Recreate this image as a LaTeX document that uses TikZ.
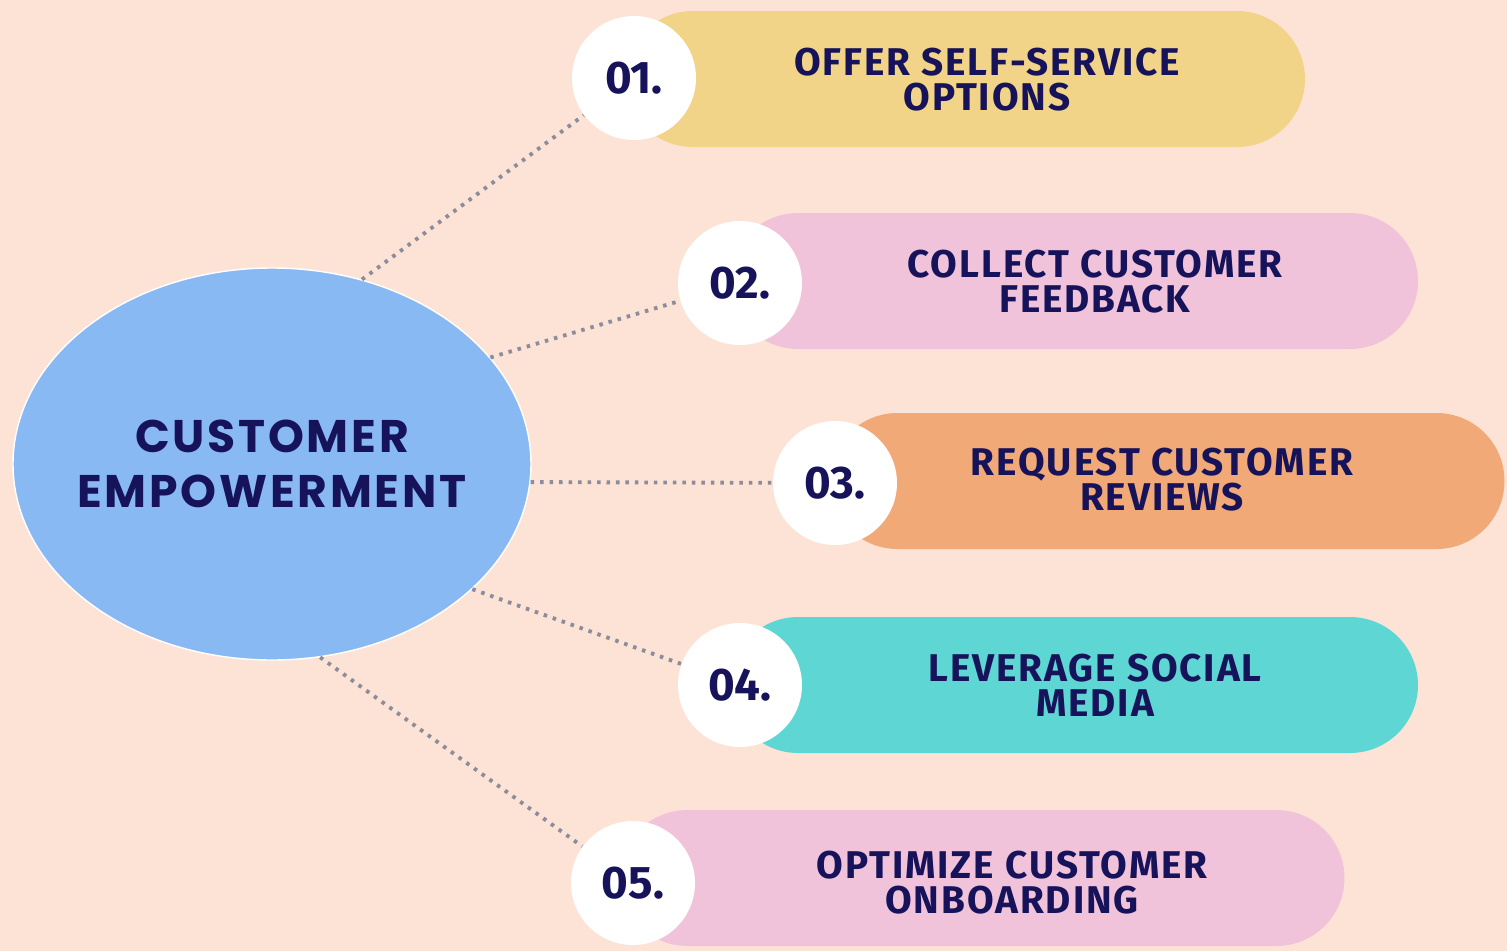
\documentclass[tikz,border=0pt]{standalone}
\usepackage{fontspec}
\setmainfont{Fira Sans}[LetterSpace=5]
\newfontfamily\hubfont{Poppins}[LetterSpace=6]
\newfontfamily\numfont{Fira Sans}
\usetikzlibrary{shapes.misc}
\usetikzlibrary{shapes.geometric}

\definecolor{bgpeach}{HTML}{FDE3D5}
\definecolor{hubblue}{HTML}{89B9F2}
\definecolor{pillyellow}{HTML}{F1D487}
\definecolor{pillpink}{HTML}{F0C3DB}
\definecolor{pillorange}{HTML}{F0A977}
\definecolor{pillteal}{HTML}{5ED6D3}
\definecolor{inknavy}{HTML}{16135A}
\definecolor{dotgray}{HTML}{8C8C9C}

\tikzset{
  pill/.style={rounded rectangle,draw=none,minimum height=13.6mm,inner sep=0pt},
  numdot/.style={circle,fill=white,minimum size=12.4mm,inner sep=0pt,text=inknavy,font=\numfont\bfseries\fontsize{13}{15}\selectfont},
  tasktext/.style={align=center,text=inknavy,font=\bfseries\fontsize{11}{10}\selectfont},
  link/.style={draw=dotgray,line width=1.1pt,dash pattern=on 1pt off 1.7pt}
}

\begin{document}
\begin{tikzpicture}[x=0.1mm,y=-0.1mm]
\useasboundingbox (0,0) rectangle (1507,951);
\fill[bgpeach] (0,0) rectangle (1507,951);

% centre
\node[ellipse,fill=hubblue,draw=white,thin,inner sep=0pt,minimum width=51.8mm,minimum height=39.2mm] (hub) at (272,464) {};
\node[align=center,text=inknavy,font=\hubfont\bfseries\fontsize{13}{15.5}\selectfont] (hubtext) at (hub.center) {CUSTOMER\\EMPOWERMENT};

% bars
\node[pill,fill=pillyellow,minimum width=68.0mm] (p1) at (965,79) {};
\node[pill,fill=pillpink,minimum width=68.8mm] (p2) at (1074,281) {};
\node[pill,fill=pillorange,minimum width=67.5mm] (p3) at (1167,481) {};
\node[pill,fill=pillteal,minimum width=68.8mm] (p4) at (1074,685) {};
\node[pill,fill=pillpink,minimum width=72.5mm] (p5) at (982,878) {};

\node[tasktext] (t1) at (987,80) {OFFER SELF-SERVICE\\OPTIONS};
\node[tasktext] (t2) at (1095,282) {COLLECT CUSTOMER\\FEEDBACK};
\node[tasktext] (t3) at (1162,480) {REQUEST CUSTOMER\\REVIEWS};
\node[tasktext] (t4) at (1095,685) {LEVERAGE SOCIAL\\MEDIA};
\node[tasktext] (t5) at (1012,883) {OPTIMIZE CUSTOMER\\ONBOARDING};

% numbers
\node[numdot] (c1) at (634,78) {01.};
\node[numdot] (c2) at (740,283) {02.};
\node[numdot] (c3) at (835,483) {03.};
\node[numdot] (c4) at (740,685) {04.};
\node[numdot] (c5) at (633,883) {05.};

\draw[link] (hub.64) -- (c1);
\draw[link] (hub.26) -- (c2);
\draw[link] (hub.-4) -- (c3);
\draw[link] (hub.-32) -- (c4);
\draw[link] (hub.-76) -- (c5);

\end{tikzpicture}
\end{document}
